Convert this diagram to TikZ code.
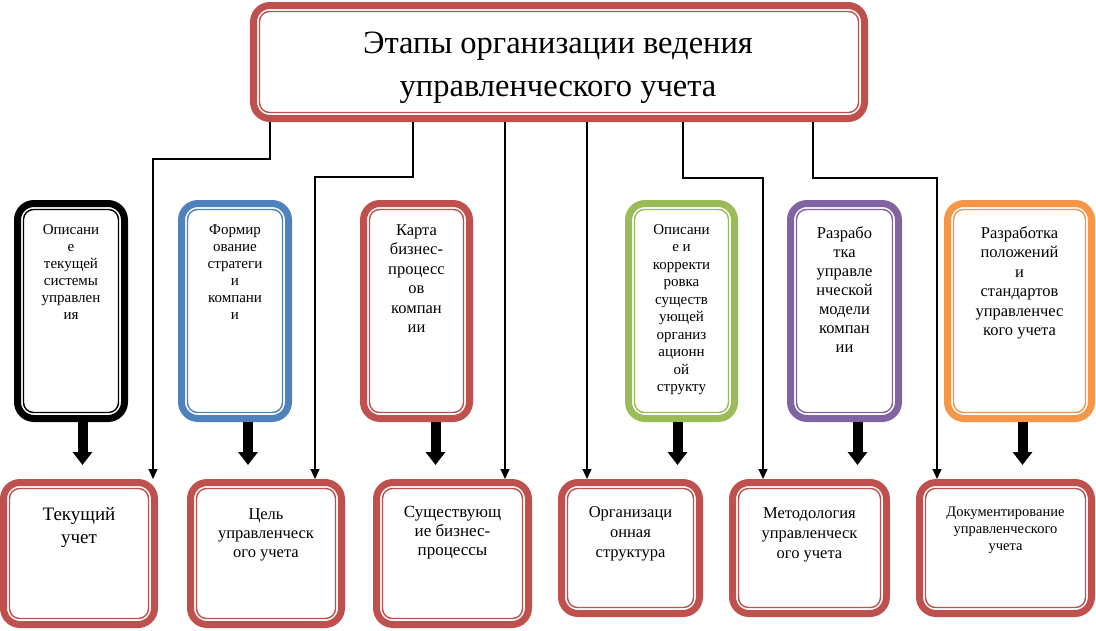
\documentclass[tikz,border=0pt]{standalone}
\usepackage{fontspec}
\setmainfont{Liberation Serif}
\usetikzlibrary{arrows.meta,calc}
\definecolor{cred}{HTML}{C0504D}
\definecolor{cblue}{HTML}{4F81BD}
\definecolor{cgreen}{HTML}{9BBB59}
\definecolor{cpurple}{HTML}{8064A2}
\definecolor{corange}{HTML}{F79646}
\tikzset{
  frame/.style={draw=#1, line width=7pt, rounded corners=16.5pt, inner sep=0pt, fill=white, outer sep=3.5pt},
  innerline/.style={draw=#1, line width=1.4pt, rounded corners=10pt},
  txt/.style={inner sep=0pt, align=center, anchor=north, text=black},
  conn/.style={line width=1.2pt, -{Triangle[width=9pt,length=10pt]}},
  bigarrow/.style={line width=10pt, -{Triangle[width=19pt,length=13pt]}},
}
\newcommand\mybox[6]{%
  \node[frame=#2, minimum width={(#5-#3-7)*1pt}, minimum height={(#6-#4-7)*1pt}] (#1) at ({(#3+#5)/2},{(#4+#6)/2}) {};
  \draw[innerline=#2] ($(#1.south west)+(9.5,-9.5)$) rectangle ($(#1.north east)+(-9.5,9.5)$);
}
\newcommand\fs[2]{\fontsize{#1}{#2}\selectfont}
\begin{document}
\begin{tikzpicture}[x=1pt,y=-1pt]
\fill[white] (0,0) rectangle (1096,630);
\useasboundingbox (0,0) rectangle (1096,630);

% title
\mybox{t}{cred}{250}{2}{868}{122}
\node[txt, font=\fs{32.5}{43}] (tt) at (558,31.5) {Этапы организации ведения\\управленческого учета};

% upper boxes
\mybox{u1}{black}{14}{200}{128}{422}
\mybox{u2}{cblue}{178}{200}{292}{422}
\mybox{u3}{cred}{360}{200}{473}{422}
\mybox{u4}{cgreen}{625}{200}{738}{422}
\mybox{u5}{cpurple}{787}{200}{902}{422}
\mybox{u6}{corange}{944}{200}{1095}{422}

\node[txt, font=\fs{15}{17}] (u1t) at (71,224) {Описани\\е\\текущей\\системы\\управлен\\ия};
\node[txt, font=\fs{15}{17}] (u2t) at (235,224) {Формир\\ование\\стратеги\\и\\компани\\и};
\node[txt, font=\fs{16.5}{19.5}] (u3t) at (416.5,224) {Карта\\бизнес-\\процесс\\ов\\компан\\ии};
\node[txt, font=\fs{15}{17.5}] (u4t) at (681.5,224) {Описани\\е и\\корректи\\ровка\\существ\\ующей\\организ\\ационн\\ой\\структу};
\node[txt, font=\fs{16.5}{19}] (u5t) at (844.5,226) {Разрабо\\тка\\управле\\нческой\\модели\\компан\\ии};
\node[txt, font=\fs{16.5}{19.5}] (u6t) at (1019.5,226) {Разработка\\положений\\и\\стандартов\\управленчес\\кого учета};

% lower boxes
\mybox{l1}{cred}{0}{479}{158}{628}
\mybox{l2}{cred}{187}{479}{345}{628}
\mybox{l3}{cred}{373}{479}{532}{628}
\mybox{l4}{cred}{558}{479}{703}{617}
\mybox{l5}{cred}{729}{479}{890}{617}
\mybox{l6}{cred}{916}{479}{1095}{617}

\node[txt, font=\fs{19}{23}] (l1t) at (79,507) {Текущий\\учет};
\node[txt, font=\fs{16.5}{19}] (l2t) at (266,508) {Цель\\управленческ\\ого учета};
\node[txt, font=\fs{17}{19}] (l3t) at (452.5,506.5) {Существующ\\ие бизнес-\\процессы};
\node[txt, font=\fs{16.5}{20}] (l4t) at (630.5,506) {Организаци\\онная\\структура};
\node[txt, font=\fs{16.5}{20}] (l5t) at (809.5,507) {Методология\\управленческ\\ого учета};
\node[txt, font=\fs{14.5}{17}] (l6t) at (1005.5,506.5) {Документирование\\управленческого\\учета};

% thick arrows
\coordinate (a1) at (82.5,465);
\coordinate (a2) at (248,465);
\coordinate (a3) at (435.5,465);
\coordinate (a4) at (677.5,465);
\coordinate (a5) at (857.5,465);
\coordinate (a6) at (1022.5,465);
\foreach \i in {1,...,6} \draw[bigarrow] (u\i.south -| a\i) -- (a\i);

% thin connectors
\coordinate (k1) at (270,159);  \coordinate (k1b) at (153,159);
\coordinate (k2) at (413,177);  \coordinate (k2b) at (315,177);
\coordinate (k3) at (505,300);
\coordinate (k4) at (587,300);
\coordinate (k5) at (683,178);  \coordinate (k5b) at (763,178);
\coordinate (k6) at (813,178);  \coordinate (k6b) at (937,178);
\draw[conn] (t.south -| k1) -- (k1) -- (k1b) -- (l1.north -| k1b);
\draw[conn] (t.south -| k2) -- (k2) -- (k2b) -- (l2.north -| k2b);
\draw[conn] (t.south -| k3) -- (l3.north -| k3);
\draw[conn] (t.south -| k4) -- (l4.north -| k4);
\draw[conn] (t.south -| k5) -- (k5) -- (k5b) -- (l5.north -| k5b);
\draw[conn] (t.south -| k6) -- (k6) -- (k6b) -- (l6.north -| k6b);
\end{tikzpicture}
\end{document}
